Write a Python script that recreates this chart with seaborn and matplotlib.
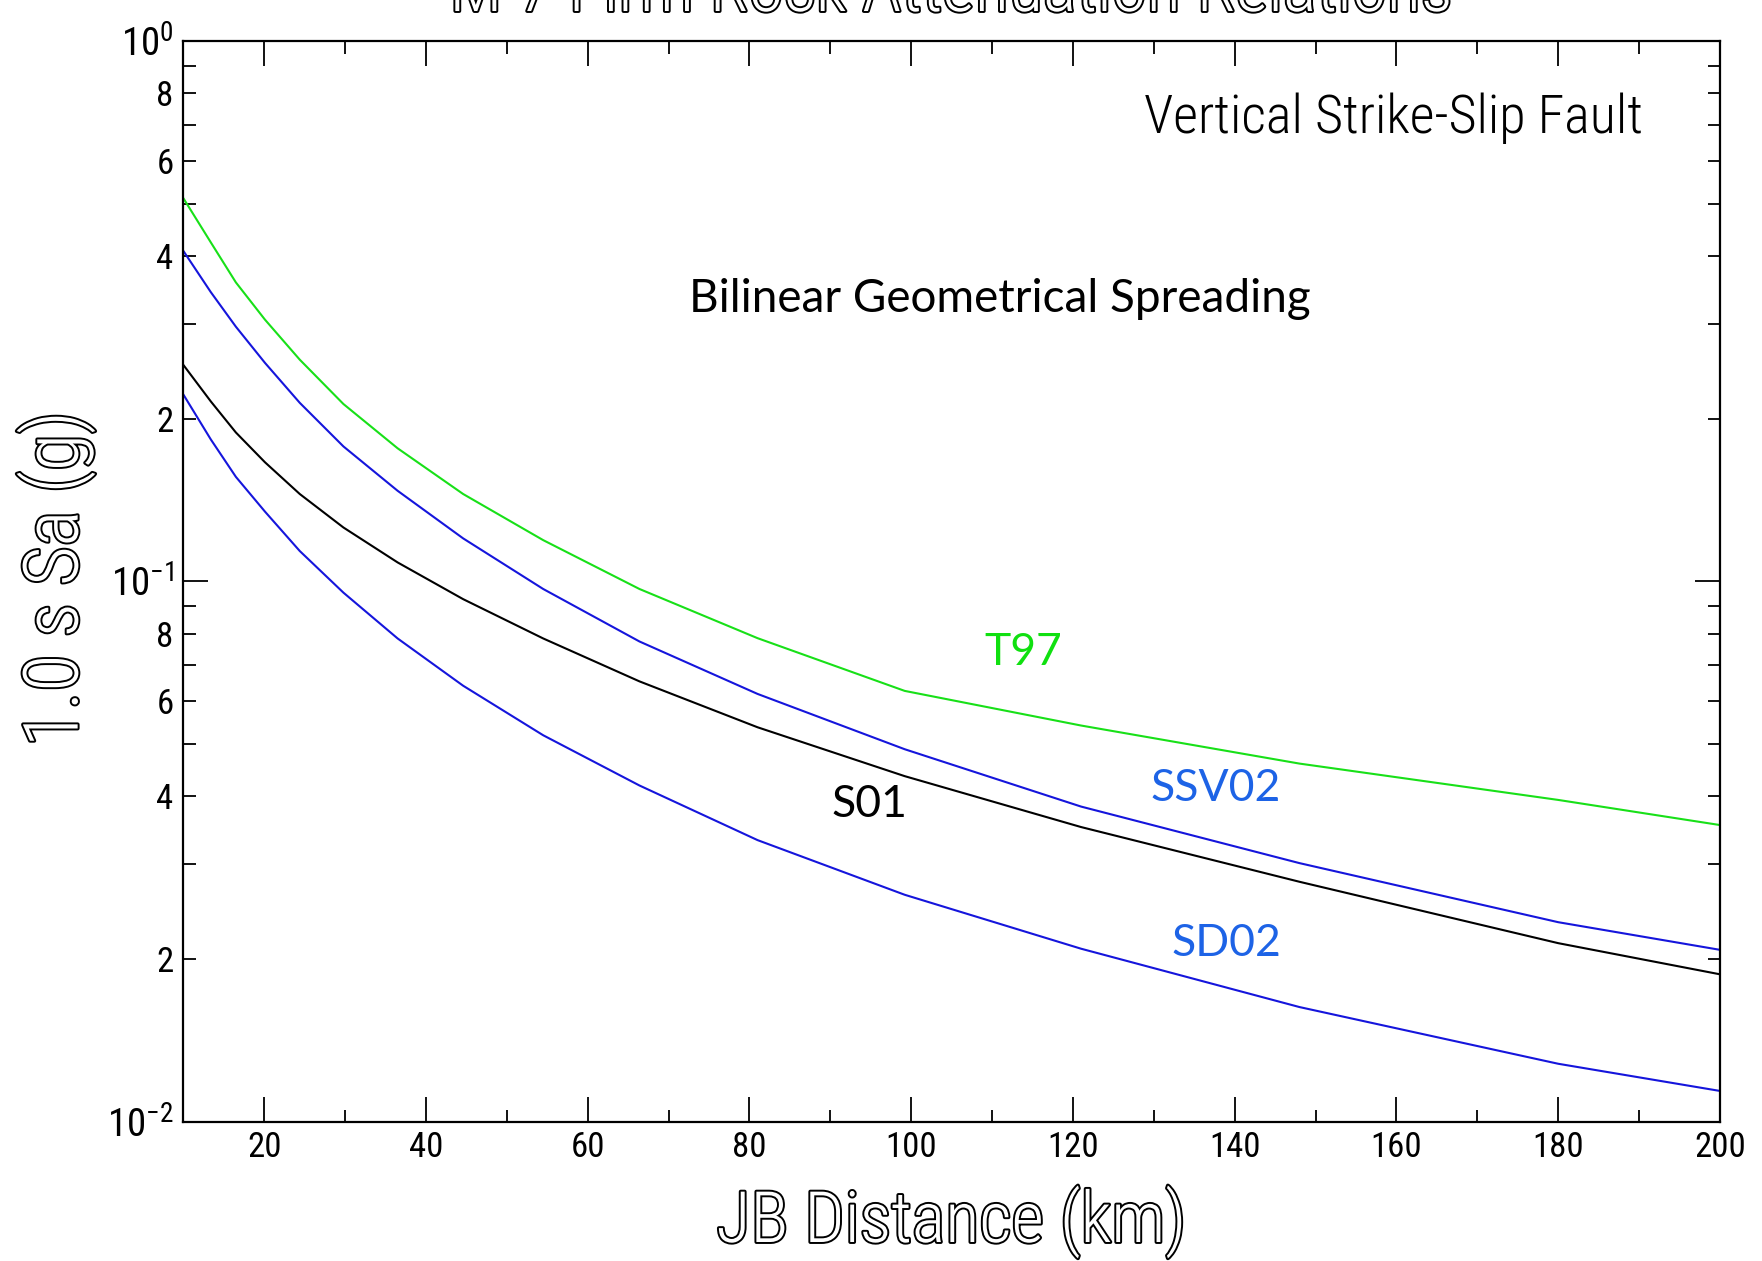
import math
import matplotlib
matplotlib.use("Agg")
import matplotlib.pyplot as plt
import matplotlib.ticker as mticker
import matplotlib.patheffects as pe
from matplotlib import font_manager
import pandas as pd
import seaborn as sns

# Distance nodes (km) and 1.0 s spectral acceleration (g) for each relation
distance_km = [10, 13.4, 16.5, 20.1, 24.4, 29.8, 36.5, 44.6, 54.5, 66.4,
               81.0, 99.2, 121.0, 148.0, 180.0, 200.0]
sa_t97 = [0.512, 0.424, 0.3575, 0.305, 0.2572, 0.2129, 0.1763, 0.1451, 0.1192,
          0.0968, 0.0785, 0.0627, 0.0541, 0.0460, 0.0394, 0.0354]
sa_ssv02 = [0.409, 0.343, 0.296, 0.2537, 0.214, 0.1777, 0.1471, 0.1201, 0.0968,
            0.0774, 0.0619, 0.0489, 0.0383, 0.0301, 0.0234, 0.0208]
sa_s01 = [0.2516, 0.2153, 0.1886, 0.1661, 0.1451, 0.1258, 0.1084, 0.0927,
          0.0784, 0.0653, 0.0537, 0.0436, 0.0351, 0.0278, 0.0214, 0.01874]
sa_sd02 = [0.2218, 0.1831, 0.1561, 0.1346, 0.1138, 0.0953, 0.0784, 0.0641,
           0.0519, 0.0419, 0.0332, 0.0263, 0.0209, 0.0163, 0.0128, 0.0114]
model_names = ["T97", "SSV02", "S01", "SD02"]

x_major_ticks = [20, 40, 60, 80, 100, 120, 140, 160, 180, 200]
y_decades = [0.01, 0.1, 1.0]
y_minor_labelled = [2, 4, 6, 8]

title_text = "M 7 Firm Rock Attenuation Relations"
x_label = "JB Distance (km)"
y_label = "1.0 s Sa (g)"
fault_text = "Vertical Strike-Slip Fault"
method_text = "Bilinear Geometrical Spreading"

line_colors = {"T97": "#18e018", "SSV02": "#1515dc", "S01": "#000000", "SD02": "#1515dc"}
label_colors = {"T97": "#10e010", "SSV02": "#1d63e6", "S01": "#000000", "SD02": "#1d63e6"}

sns.set_theme(style="ticks")
installed = {f.name for f in font_manager.fontManager.ttflist}
narrow = next((f for f in ["Liberation Sans Narrow", "DejaVu Sans Condensed",
                           "Roboto Condensed", "Liberation Sans", "DejaVu Sans"]
               if f in installed), "DejaVu Sans")
humanist = next((f for f in ["Myriad Pro", "Lato", "Open Sans", "Noto Sans"]
                 if f in installed), "DejaVu Sans")
plt.rcParams["font.family"] = [narrow, "DejaVu Sans"]
plt.rcParams["mathtext.fontset"] = "custom"
plt.rcParams["mathtext.rm"] = narrow
plt.rcParams["mathtext.it"] = narrow
plt.rcParams["mathtext.default"] = "rm"

df = pd.DataFrame({
    "distance": distance_km * 4,
    "sa": sa_t97 + sa_ssv02 + sa_s01 + sa_sd02,
    "model": [m for m in model_names for _ in distance_km],
})

fig = plt.figure(figsize=(17.62, 12.61), dpi=100, facecolor="white")
ax = fig.add_axes([0.10403, 0.11047, 0.87213, 0.85700])
ax.set_facecolor("white")

sns.lineplot(data=df, x="distance", y="sa", hue="model", palette=line_colors,
             legend=False, linewidth=1.5, estimator=None, sort=False, ax=ax)

ax.set_yscale("log")
ax.set_xlim(10, 200)
ax.set_ylim(0.01, 1.0)

ax.xaxis.set_major_locator(mticker.FixedLocator(x_major_ticks))
ax.xaxis.set_minor_locator(mticker.MultipleLocator(10))
ax.xaxis.set_major_formatter(mticker.FuncFormatter(lambda v, p: f"{v:.0f}"))

ax.yaxis.set_major_locator(mticker.FixedLocator(y_decades))
ax.yaxis.set_minor_locator(mticker.LogLocator(base=10, subs=range(2, 10), numticks=20))


def decade_label(v, pos):
    exp = int(round(math.log10(v)))
    return rf"$10^{{{exp}}}$"


def minor_label(v, pos):
    exp = math.floor(math.log10(v) + 1e-9)
    mant = int(round(v / 10 ** exp))
    return str(mant) if mant in y_minor_labelled else ""


ax.yaxis.set_major_formatter(mticker.FuncFormatter(decade_label))
ax.yaxis.set_minor_formatter(mticker.FuncFormatter(minor_label))

ax.tick_params(which="both", direction="in", top=True, right=True,
               color="black", width=1.3, labelsize=25, labelcolor="black")
ax.tick_params(which="major", length=18, pad=7)
ax.tick_params(which="minor", length=9, pad=7)
ax.tick_params(axis="y", which="major", labelsize=28)
ax.tick_params(axis="x", which="minor", labelbottom=False)
for spine in ax.spines.values():
    spine.set_linewidth(1.6)
    spine.set_color("black")
ax.set_xlabel("")
ax.set_ylabel("")

# Outlined lettering for the title and axis captions
hollow = [pe.Stroke(linewidth=2.8, foreground="black"), pe.Normal()]
fig.text(0.540, 1 - 11 / 1261, title_text, ha="center", va="baseline",
         fontsize=51, fontweight="light", color="white", path_effects=hollow)
fig.text(0.540, 1 - 1242 / 1261, x_label, ha="center", va="baseline",
         fontsize=51, fontweight="light", color="white", path_effects=hollow)
fig.text(56 / 1762, 1 - 579 / 1261, y_label, ha="center", va="center",
         rotation=90, fontsize=55, fontweight="light", color="white",
         path_effects=hollow)

ax.text(0.950, 0.9152, fault_text, transform=ax.transAxes, ha="right",
        va="baseline", fontsize=39, fontweight="light", color="black")
ax.text(0.5315, 0.7613, method_text, transform=ax.transAxes, ha="center",
        va="center", fontsize=33, color="black", family=humanist)

label_pos = {"T97": (113.9, 0.0737), "SSV02": (137.7, 0.0413),
             "S01": (94.8, 0.0386), "SD02": (139.0, 0.0214)}
for name in model_names:
    lx, ly = label_pos[name]
    ax.text(lx, ly, name, ha="center", va="center", fontsize=32,
            color=label_colors[name], family=humanist)

fig.savefig("out.png", dpi=100, facecolor="white")
